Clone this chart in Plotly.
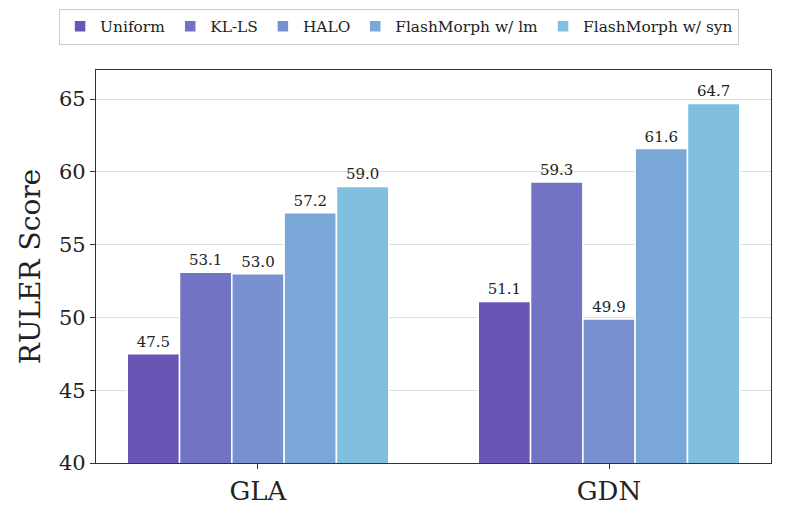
import plotly.graph_objects as go

categories = ["GLA", "GDN"]
series_names = ["Uniform", "KL-LS", "HALO", "FlashMorph w/ lm", "FlashMorph w/ syn"]
uniform = [47.5, 51.1]
kl_ls = [53.1, 59.3]
halo = [53.0, 49.9]
fm_lm = [57.2, 61.6]
fm_syn = [59.0, 64.7]
colors = ["#6a55b5", "#7373c6", "#7890cf", "#79a8d8", "#81bfe0"]

values = [uniform, kl_ls, halo, fm_lm, fm_syn]
font = "DejaVu Serif"

fig = go.Figure()
for name, vals, c in zip(series_names, values, colors):
    fig.add_trace(go.Bar(
        x=categories, y=vals, name=name,
        marker=dict(color=c, line=dict(color="white", width=1.5)),
        texttemplate="%{y:.1f}", textposition="outside",
        textfont=dict(family=font, size=15, color="#222"),
        cliponaxis=False,
    ))

fig.update_layout(
    width=800, height=514,
    margin=dict(l=96, r=29, t=70, b=51),
    paper_bgcolor="white", plot_bgcolor="white",
    barmode="group", bargap=0.255, bargroupgap=0,
    font=dict(family=font, color="#222"),
    legend=dict(orientation="h", x=0.449, xanchor="center", y=0.948, yanchor="middle",
                yref="container", bordercolor="#cccccc", borderwidth=1,
                font=dict(family=font, size=15.4), itemwidth=30,
                tracegroupgap=0),
    xaxis=dict(range=[-0.4615, 1.4615], showline=True, linecolor="#333", linewidth=1.2, mirror=True,
               ticks="outside", ticklen=5, tickcolor="#333", automargin=False,
               tickfont=dict(family=font, size=26)),
    yaxis=dict(range=[40, 67], tickvals=[40, 45, 50, 55, 60, 65], showline=True, linecolor="#333",
               linewidth=1.2, mirror=True, ticks="outside", ticklen=5, tickcolor="#333",
               showgrid=True, gridcolor="#dddddd", gridwidth=1, automargin=False,
               tickfont=dict(family=font, size=21),
               title=dict(text="RULER Score", font=dict(family=font, size=28), standoff=10)),
)

fig.write_html("out.html")
